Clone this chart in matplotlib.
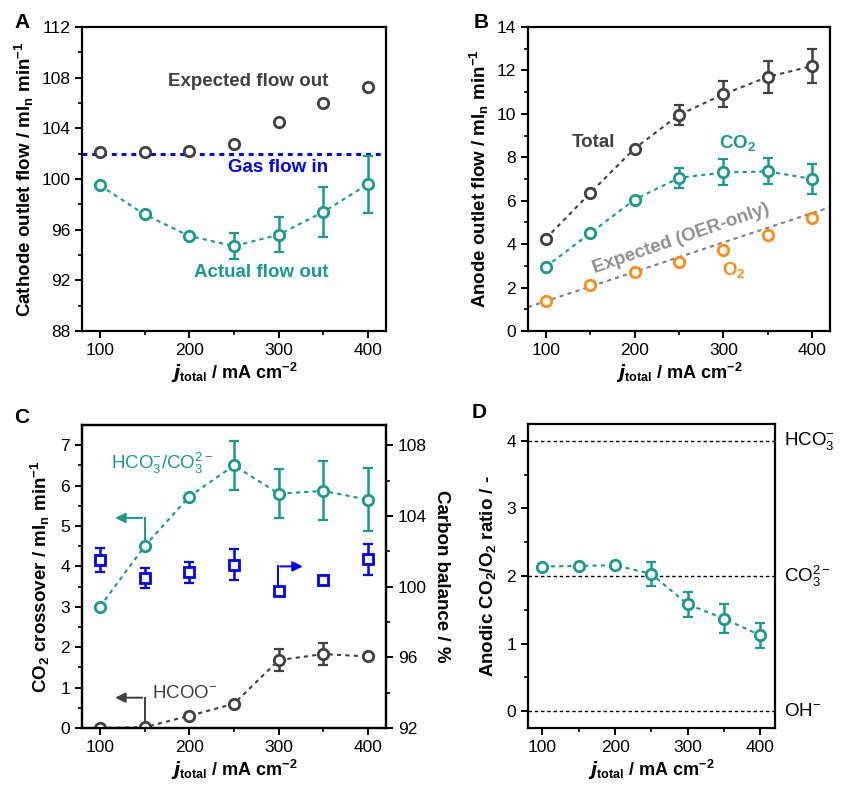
import numpy as np
import matplotlib
matplotlib.use("Agg")
import matplotlib.pyplot as plt

plt.rcParams['font.family'] = ['Liberation Sans', 'DejaVu Sans']
plt.rcParams['mathtext.fontset'] = 'custom'
plt.rcParams['mathtext.rm'] = 'Liberation Sans'
plt.rcParams['mathtext.it'] = 'Liberation Sans:italic'
plt.rcParams['mathtext.bf'] = 'Liberation Sans:bold'

TEAL = '#1b9a8c'
GRAY = '#404040'
BLUE = '#0000ff'
ORANGE = '#ff8c1a'

# ---- data ----
j_total = [100, 150, 200, 250, 300, 350, 400]

# A: cathode outlet flow
cath_expected = [102.1, 102.1, 102.2, 102.8, 104.5, 106.0, 107.3]
cath_actual = [99.5, 97.2, 95.5, 94.7, 95.6, 97.4, 99.6]
cath_actual_err = [0, 0, 0, 1.0, 1.4, 2.0, 2.25]
gas_flow_in = 102.0

# B: anode outlet flow
anode_total = [4.25, 6.35, 8.4, 9.95, 10.9, 11.7, 12.2]
anode_total_err = [0, 0, 0, 0.45, 0.6, 0.75, 0.78]
anode_co2 = [2.95, 4.5, 6.05, 7.05, 7.3, 7.35, 7.0]
anode_co2_err = [0, 0, 0, 0.45, 0.6, 0.6, 0.68]
anode_o2 = [1.4, 2.1, 2.7, 3.2, 3.75, 4.4, 5.2]
oer_x = [80, 420]
oer_y = [1.1, 5.7]

# C: CO2 crossover + carbon balance
cross_carb = [3.0, 4.5, 5.73, 6.5, 5.8, 5.87, 5.65]
cross_carb_err = [0, 0, 0, 0.6, 0.6, 0.73, 0.78]
cross_hcoo = [0.0, 0.02, 0.3, 0.6, 1.68, 1.83, 1.77]
cross_hcoo_err = [0, 0, 0, 0, 0.28, 0.28, 0]
carbon_balance = [101.5, 100.5, 100.8, 101.25, 99.75, 100.35, 101.55]
carbon_balance_err = [0.69, 0.57, 0.59, 0.88, 0, 0, 0.87]

# D: anodic CO2/O2 ratio
ratio = [2.14, 2.15, 2.16, 2.03, 1.58, 1.37, 1.12]
ratio_err = [0, 0, 0, 0.18, 0.18, 0.22, 0.18]
ref_levels = [4, 2, 0]
ref_labels = ['HCO$_3^{-}$', 'CO$_3^{2-}$', 'OH$^{-}$']

DASH = (0, (2.0, 2.0))
mk = dict(marker='o', ms=7.5, mfc='white', mew=2.0)
LBL = 13.5
ANN = 13.5


def style(ax):
    for s in ax.spines.values():
        s.set_linewidth(1.6)
    ax.tick_params(which='major', direction='out', length=5, width=1.4, labelsize=12.5,
                   top=False, right=False)
    ax.tick_params(which='minor', direction='out', length=3, width=1.2, top=False, right=False)
    ax.set_xlim(80, 420)
    ax.set_xticks([100, 200, 300, 400])
    ax.set_xticks([150, 250, 350], minor=True)
    ax.set_xlabel('$\\mathbfit{j}_{\\mathbf{total}}$ / mA cm$^{\\mathbf{-2}}$', fontsize=13,
                  fontweight='bold', labelpad=2)


def series(ax, y, err, color, ls=DASH, line=True):
    ax.plot(j_total, y, color=color, ls=ls if line else 'none', lw=1.5, **mk, zorder=3)
    e = np.array(err)
    if e.any():
        ax.errorbar(j_total, y, yerr=e, fmt='none', ecolor=color, elinewidth=1.8,
                    capsize=3.5, capthick=1.6, zorder=2)


fig = plt.figure(figsize=(8.42, 7.93), dpi=100)
axA = fig.add_axes([0.0974, 0.5826, 0.361, 0.3834])
axB = fig.add_axes([0.627, 0.5826, 0.3587, 0.3834])
axC = fig.add_axes([0.0974, 0.082, 0.361, 0.382])
axD = fig.add_axes([0.627, 0.082, 0.2933, 0.3833])

# ---- A ----
style(axA)
axA.axhline(gas_flow_in, color=BLUE, ls=(0, (1.6, 1.6)), lw=2.2, zorder=1)
series(axA, cath_expected, [0] * 7, GRAY, line=False)
series(axA, cath_actual, cath_actual_err, TEAL)
axA.set_ylim(88, 112)
axA.set_yticks([88, 92, 96, 100, 104, 108, 112])
axA.set_yticks(np.arange(90, 112, 4), minor=True)
axA.set_ylabel('Cathode outlet flow / ml$_\\mathbf{n}$ min$^{\\mathbf{-1}}$', fontsize=LBL,
               fontweight='bold', labelpad=4)
axA.text(266, 107.7, 'Expected flow out', color=GRAY, fontsize=ANN, fontweight='bold',
         ha='center', va='center')
axA.text(299, 100.9, 'Gas flow in', color=BLUE, fontsize=ANN, fontweight='bold',
         ha='center', va='center')
axA.text(281, 92.6, 'Actual flow out', color=TEAL, fontsize=ANN, fontweight='bold',
         ha='center', va='center')

# ---- B ----
style(axB)
axB.plot(oer_x, oer_y, color='#808080', ls=DASH, lw=1.5, zorder=1)
series(axB, anode_total, anode_total_err, GRAY)
series(axB, anode_co2, anode_co2_err, TEAL)
axB.plot(j_total, anode_o2, color=ORANGE, ls='none', **mk, zorder=3)
axB.set_ylim(0, 14)
axB.set_yticks(np.arange(0, 15, 2))
axB.set_yticks(np.arange(1, 14, 2), minor=True)
axB.set_ylabel('Anode outlet flow / ml$_\\mathbf{n}$ min$^{\\mathbf{-1}}$', fontsize=LBL,
               fontweight='bold', labelpad=4)
axB.text(154, 8.66, 'Total', color=GRAY, fontsize=ANN, fontweight='bold', ha='center', va='center')
axB.text(316, 8.66, 'CO$_\\mathbf{2}$', color=TEAL, fontsize=ANN, fontweight='bold',
         ha='center', va='center')
axB.text(252, 4.25, 'Expected (OER-only)', color='#909090', fontsize=ANN, fontweight='bold',
         ha='center', va='center', rotation=19)
axB.text(312, 2.8, 'O$_\\mathbf{2}$', color=ORANGE, fontsize=ANN, fontweight='bold',
         ha='center', va='center')

# ---- C ----
style(axC)
series(axC, cross_carb, cross_carb_err, TEAL)
series(axC, cross_hcoo, cross_hcoo_err, GRAY)
axC.set_ylim(0, 7.5)
axC.set_yticks(np.arange(0, 8, 1))
axC.set_yticks(np.arange(0.5, 7.5, 1), minor=True)
axC.set_ylabel('CO$_\\mathbf{2}$ crossover / ml$_\\mathbf{n}$ min$^{\\mathbf{-1}}$', fontsize=LBL,
               fontweight='bold', labelpad=6)
axC2 = axC.twinx()
axC2.set_ylim(92, 92 + 7.5 * 16 / 7)
axC2.plot(j_total, carbon_balance, color=BLUE, ls='none', marker='s', ms=7, mfc='white', mew=2.0,
          zorder=3)
be = np.array(carbon_balance_err)
idx = be > 0
axC2.errorbar(np.array(j_total)[idx], np.array(carbon_balance)[idx], yerr=be[idx], fmt='none',
              ecolor=BLUE, elinewidth=1.8, capsize=3.5, capthick=1.6, zorder=2)
axC2.set_yticks([92, 96, 100, 104, 108])
axC2.set_yticks([94, 98, 102, 106], minor=True)
axC2.tick_params(which='major', direction='out', length=5, width=1.4, labelsize=12.5)
axC2.tick_params(which='minor', direction='out', length=3, width=1.2)
axC2.set_ylabel('Carbon balance / %', fontsize=LBL, fontweight='bold', rotation=270, labelpad=17)
for s in axC2.spines.values():
    s.set_linewidth(1.6)
axC.text(170, 6.55, 'HCO$_3^{-}$/CO$_3^{2-}$', color=TEAL,
         fontsize=ANN, ha='center', va='center')
axC.text(195, 0.86, 'HCOO$^{-}$', color=GRAY, fontsize=ANN, ha='center', va='center')
# bent arrows pointing to the axis each series belongs to
axC.plot([150, 150], [4.5, 5.2], color=TEAL, lw=1.4, zorder=1)
axC.annotate('', xy=(114, 5.2), xytext=(150.5, 5.2),
             arrowprops=dict(arrowstyle='-|>', color=TEAL, lw=1.4, mutation_scale=15))
axC.plot([150, 150], [0.05, 0.75], color=GRAY, lw=1.4, zorder=1)
axC.annotate('', xy=(114, 0.75), xytext=(150.5, 0.75),
             arrowprops=dict(arrowstyle='-|>', color=GRAY, lw=1.4, mutation_scale=15))
axC.plot([299, 299], [3.5, 4.0], color=BLUE, lw=1.4)
axC.annotate('', xy=(330, 4.0), xytext=(298.5, 4.0),
             arrowprops=dict(arrowstyle='-|>', color=BLUE, lw=1.4, mutation_scale=15))

# ---- D ----
style(axD)
for lvl, lab in zip(ref_levels, ref_labels):
    axD.axhline(lvl, color='black', ls=(0, (2.5, 2)), lw=1.0, zorder=1)
    axD.text(1.035, lvl, lab, transform=axD.get_yaxis_transform(), fontsize=ANN,
             ha='left', va='center')
series(axD, ratio, ratio_err, TEAL)
axD.set_ylim(-0.25, 4.25)
axD.set_yticks([0, 1, 2, 3, 4])
axD.set_yticks([0.5, 1.5, 2.5, 3.5], minor=True)
axD.set_ylabel('Anodic CO$_\\mathbf{2}$/O$_\\mathbf{2}$ ratio / -', fontsize=LBL,
               fontweight='bold', labelpad=6)

for lab, x, y in [('A', 0.017, 0.972), ('B', 0.562, 0.972), ('C', 0.017, 0.473), ('D', 0.56, 0.48)]:
    fig.text(x, y, lab, fontsize=15, fontweight='bold', va='center')

fig.savefig('out.png', dpi=100)
